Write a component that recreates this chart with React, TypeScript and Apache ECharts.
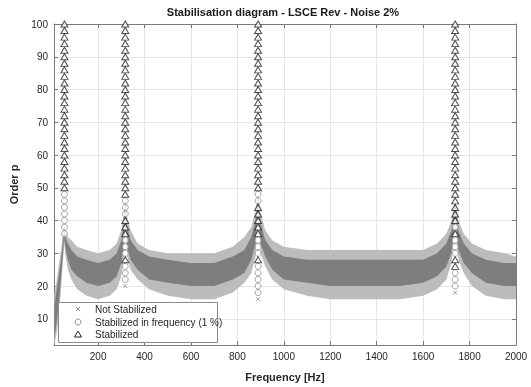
import React, { useEffect, useRef } from "react";
import * as echarts from "echarts";

const titleText = "Stabilisation diagram - LSCE Rev - Noise 2%";
const xTicks = [200, 400, 600, 800, 1000, 1200, 1400, 1600, 1800, 2000];
const yTicks = [10, 20, 30, 40, 50, 60, 70, 80, 90, 100];

// FRF-like noisy response, described by its envelopes
const bandFreq = [11, 20, 30, 40, 48, 54, 60, 70, 85, 110, 150, 200, 250, 280, 300, 310, 317, 325, 340, 370, 420, 500, 600, 700, 780, 830, 860, 878, 889, 900, 920, 950, 1000, 1100, 1200, 1300, 1400, 1500, 1600, 1660, 1700, 1722, 1738, 1752, 1775, 1810, 1870, 1950, 2000];
const outerLow = [2, 5, 10, 19, 27, 33, 29, 25, 22, 19, 17, 16, 17, 19, 23, 28, 38, 29, 25, 22, 19, 17, 16, 16, 18, 21, 24, 29, 40, 30, 26, 22, 19, 17, 16, 16, 16, 16, 17, 19, 22, 27, 38, 28, 24, 20, 17, 16, 16];
const coreLow = [4, 8, 14, 22, 29, 35, 31, 28, 25, 23, 21, 20, 21, 23, 27, 32, 42, 32, 28, 25, 22, 21, 20, 20, 22, 24, 28, 33, 43, 33, 29, 25, 22, 21, 20, 20, 20, 20, 21, 23, 26, 30, 41, 31, 27, 24, 21, 20, 20];
const coreHigh = [14, 18, 23, 28, 33, 38, 35, 33, 31, 29, 28, 27, 28, 30, 34, 39, 47, 38, 34, 31, 29, 28, 27, 27, 29, 31, 35, 40, 48, 39, 34, 31, 29, 28, 28, 28, 28, 28, 28, 30, 33, 37, 46, 37, 33, 30, 28, 27, 27];
const outerHigh = [17, 21, 26, 31, 35, 39, 37, 35, 34, 32, 31, 30, 31, 33, 37, 42, 48, 41, 37, 33, 31, 30, 30, 30, 32, 35, 38, 43, 49, 42, 37, 34, 32, 31, 31, 31, 31, 31, 31, 33, 36, 40, 47, 40, 36, 33, 31, 30, 29];

// Stabilisation markers: pole frequencies and model orders
const peakFreqs = [55, 317, 889, 1738];
const stabilizedOrders = [
  [50, 52, 54, 56, 58, 60, 62, 64, 66, 68, 70, 72, 74, 76, 78, 80, 82, 84, 86, 88, 90, 92, 94, 96, 98, 100],
  [28, 36, 38, 40, 48, 50, 52, 54, 56, 58, 60, 62, 64, 66, 68, 70, 72, 74, 76, 78, 80, 82, 84, 86, 88, 90, 92, 94, 96, 98, 100],
  [28, 36, 38, 40, 42, 44, 50, 52, 54, 56, 58, 60, 62, 64, 66, 68, 70, 72, 74, 76, 78, 80, 82, 84, 86, 88, 90, 92, 94, 96, 98, 100],
  [26, 28, 36, 40, 42, 44, 46, 48, 50, 52, 54, 56, 58, 60, 62, 64, 66, 68, 70, 72, 74, 76, 78, 80, 82, 84, 86, 88, 90, 92, 94, 96, 98, 100],
];
const freqStableOrders = [
  [36, 38, 40, 42, 44, 46, 48],
  [22, 24, 26, 30, 32, 34, 42, 44, 46],
  [18, 20, 22, 24, 26, 30, 32, 34, 46, 48],
  [20, 22, 24, 30, 32, 34, 38],
];
const notStableOrders = [[34], [20], [16], [18]];

const legendNames = ["Not Stabilized", "Stabilized in frequency (1 %)", "Stabilized"];

function toPoints(orders: number[][]) {
  const pts: number[][] = [];
  orders.forEach((list, i) => list.forEach((o) => pts.push([peakFreqs[i], o])));
  return pts;
}

export default function App() {
  const ref = useRef<HTMLDivElement>(null);
  useEffect(() => {
    if (!ref.current) return;
    const chart = echarts.init(ref.current, undefined, { renderer: "svg" });
    const font = "Liberation Sans";
    const axisColor = "#7a7a7a";
    const labelColor = "#262626";
    const gridLine = { show: true, lineStyle: { color: "#e6e6e6", width: 1 } };
    const lx = 78;
    const rows = [309, 322, 334];
    chart.setOption({
      animation: false,
      textStyle: { fontFamily: font },
      graphic: [
        {
          type: "text",
          x: 283,
          y: 12,
          style: {
            text: titleText,
            font: "bold 11px " + font,
            fill: "#1a1a1a",
            textAlign: "center",
            textVerticalAlign: "middle",
          },
        },
        {
          type: "group",
          z: 100,
          children: [
            { type: "rect", z: 100, shape: { x: 58.5, y: 302.5, width: 159, height: 40 }, style: { fill: "#ffffff", stroke: "#8a8a8a", lineWidth: 1 } },
            { type: "line", z: 101, shape: { x1: lx - 2, y1: rows[0] - 2, x2: lx + 2, y2: rows[0] + 2 }, style: { stroke: "#8a8a8a", lineWidth: 1 } },
            { type: "line", z: 101, shape: { x1: lx + 2, y1: rows[0] - 2, x2: lx - 2, y2: rows[0] + 2 }, style: { stroke: "#8a8a8a", lineWidth: 1 } },
            { type: "circle", z: 101, shape: { cx: lx, cy: rows[1], r: 3 }, style: { fill: "#ffffff", stroke: "#8e8e8e", lineWidth: 1 } },
            { type: "polygon", z: 101, shape: { points: [[lx, rows[2] - 3], [lx + 3.5, rows[2] + 3], [lx - 3.5, rows[2] + 3]] }, style: { fill: "#ffffff", stroke: "#222222", lineWidth: 1 } },
            ...legendNames.map((n, i) => ({
              type: "text",
              z: 101,
              x: 95,
              y: rows[i],
              style: { text: n, font: "10px " + font, fill: labelColor, textVerticalAlign: "middle" },
            })),
          ],
        },
      ],
      grid: { left: 50, right: 15, top: 24, bottom: 37 },
      xAxis: [
        {
          type: "value",
          min: 10,
          max: 2000,
          name: "Frequency [Hz]",
          nameLocation: "middle",
          nameGap: 26,
          nameTextStyle: { fontWeight: "bold", fontSize: 11, color: labelColor, fontFamily: font },
          axisLine: { show: true, lineStyle: { color: axisColor } },
          axisTick: { show: true, inside: true, length: 4, customValues: xTicks, lineStyle: { color: axisColor } },
          axisLabel: { customValues: xTicks, formatter: (v: number) => String(v), fontSize: 10, color: labelColor, margin: 6, fontFamily: font },
          splitLine: gridLine,
        },
        {
          type: "value",
          position: "top",
          min: 10,
          max: 2000,
          axisLine: { show: true, lineStyle: { color: axisColor } },
          axisTick: { show: true, inside: true, length: 4, customValues: xTicks, lineStyle: { color: axisColor } },
          axisLabel: { show: false },
          splitLine: { show: false },
        },
      ],
      yAxis: [
        {
          type: "value",
          min: 2,
          max: 100,
          name: "Order p",
          nameLocation: "middle",
          nameGap: 35,
          nameTextStyle: { fontWeight: "bold", fontSize: 11, color: labelColor, fontFamily: font },
          axisLine: { show: true, lineStyle: { color: axisColor } },
          axisTick: { show: true, inside: true, length: 4, customValues: yTicks, lineStyle: { color: axisColor } },
          axisLabel: { customValues: yTicks, formatter: (v: number) => String(v), fontSize: 10, color: labelColor, margin: 6, fontFamily: font },
          splitLine: gridLine,
        },
        {
          type: "value",
          position: "right",
          min: 2,
          max: 100,
          axisLine: { show: true, lineStyle: { color: axisColor } },
          axisTick: { show: true, inside: true, length: 4, customValues: yTicks, lineStyle: { color: axisColor } },
          axisLabel: { show: false },
          splitLine: { show: false },
        },
      ],
      series: [
        {
          type: "custom",
          name: "FRF",
          silent: true,
          data: [[1000, 25]],
          encode: { x: 0, y: 1 },
          renderItem: (params: any, api: any) => {
            const poly = (lo: number[], hi: number[]) => {
              const pts: number[][] = [];
              for (let i = 0; i < bandFreq.length; i++) pts.push(api.coord([bandFreq[i], hi[i]]));
              for (let i = bandFreq.length - 1; i >= 0; i--) pts.push(api.coord([bandFreq[i], lo[i]]));
              return pts;
            };
            return {
              type: "group",
              children: [
                { type: "polygon", shape: { points: poly(outerLow, outerHigh) }, style: { fill: "#bcbcbc" } },
                { type: "polygon", shape: { points: poly(coreLow, coreHigh) }, style: { fill: "#7e7e7e" } },
              ],
            };
          },
          z: 1,
        },
        {
          type: "scatter",
          name: legendNames[0],
          data: toPoints(notStableOrders),
          symbol: "path://M0,0L10,10M10,0L0,10",
          symbolSize: 4,
          itemStyle: { color: "none", borderColor: "#8a8a8a", borderWidth: 1 },
          z: 3,
        },
        {
          type: "scatter",
          name: legendNames[1],
          data: toPoints(freqStableOrders),
          symbol: "circle",
          symbolSize: 6,
          itemStyle: { color: "#ffffff", borderColor: "#8e8e8e", borderWidth: 1 },
          z: 3,
        },
        {
          type: "scatter",
          name: legendNames[2],
          data: toPoints(stabilizedOrders),
          symbol: "triangle",
          symbolSize: [7, 6],
          itemStyle: { color: "#ffffff", borderColor: "#222222", borderWidth: 1 },
          z: 4,
        },
      ],
    });
    return () => chart.dispose();
  }, []);
  return <div ref={ref} style={{ width: 531, height: 387, position: "fixed", left: 0, top: 0 }} />;
}
